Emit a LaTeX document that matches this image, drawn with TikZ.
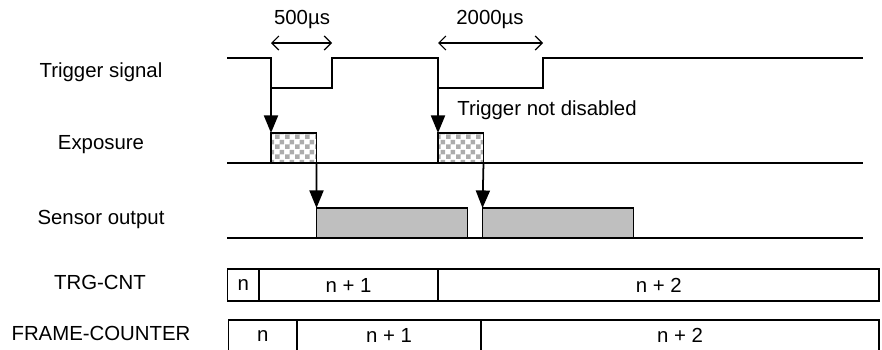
\documentclass[tikz,border=0pt]{standalone}
\usepackage{fontspec}
\setmainfont{Liberation Sans}
\usetikzlibrary{arrows.meta,positioning,patterns}

\pgfdeclarepatternformonly{checks}{\pgfpointorigin}{\pgfqpoint{5.4pt}{5.4pt}}{\pgfqpoint{5.4pt}{5.4pt}}{%
  \pgfpathrectangle{\pgfpointorigin}{\pgfqpoint{2.7pt}{2.7pt}}%
  \pgfpathrectangle{\pgfqpoint{2.7pt}{2.7pt}}{\pgfqpoint{2.7pt}{2.7pt}}%
  \pgfusepath{fill}}

\tikzset{
  every node/.style={font=\fontsize{11.6}{14}\selectfont},
  wave/.style={line width=1pt},
  trig/.style={line width=1pt, -{Triangle[length=10pt,width=8pt]}},
  span/.style={line width=0.7pt, {Straight Barb[length=4pt,width=8pt]}-{Straight Barb[length=4pt,width=8pt]}},
  expbox/.style={draw, line width=1pt, fill=white, pattern=checks, pattern color=gray!65,
    minimum width=0.91cm, minimum height=0.6cm, inner sep=0pt, outer sep=0pt, anchor=north west},
  sensbox/.style={draw, line width=1pt, fill=gray!50,
    minimum width=3.02cm, minimum height=0.6cm, inner sep=0pt, outer sep=0pt, anchor=north west},
  cell/.style={draw, line width=1pt, minimum height=0.63cm, inner sep=0pt, outer sep=0pt}
}

\begin{document}
\begin{tikzpicture}[x=0.02cm, y=-0.02cm]
    \useasboundingbox (0,0) rectangle (882,349);

    \node (lbltrig) at (101,72) {Trigger signal};
    \node (lblexp) at (101,145) {Exposure};
    \node (lblsens) at (101,219) {Sensor output};
    \node (lbltrg) at (100,282) {TRG-CNT};
    \node (lblframe) at (101,333) {FRAME-COUNTER};

    \draw[wave] (227,58) -- (271,58) -- (271,88) -- (332,88) -- (332,58) -- (438,58)
        -- (438,88) -- (543,88) -- (543,58) -- (863,58);
    \coordinate (fall1) at (271,88);
    \coordinate (fall2) at (438,88);

    \coordinate (w1a) at (271,43);
    \coordinate (w1b) at (332,43);
    \coordinate (w2a) at (438,43);
    \coordinate (w2b) at (543,43);
    \draw[span] (w1a) -- (w1b);
    \draw[span] (w2a) -- (w2b);
    \node (d500) at (302,19) {500µs};
    \node (d2000) at (490,19) {2000µs};

    \draw[wave] (227,163) -- (863,163);
    \draw[wave] (227,238) -- (863,238);

    \node[expbox] (exp1) at (271,133) {};
    \node[expbox] (exp2) at (438,133) {};
    \node[sensbox] (sens1) at (316.5,208) {};
    \node[sensbox] (sens2) at (482.5,208) {};

    \draw[trig] (fall1) -- (exp1.north west);
    \draw[trig] (fall2) -- (exp2.north west);
    \draw[trig] (exp1.south east) -- (sens1.north west);
    \draw[trig] (exp2.south east) -- (sens2.north west);
    \node (nodis) at (547,110) {Trigger not disabled};

    \node[cell, minimum width=0.63cm, anchor=north west] (trg0) at (227.5,269.3) {n};
    \node[cell, minimum width=3.586cm, right=0pt of trg0] (trg1) {n + 1};
    \node[cell, minimum width=8.82cm, right=0pt of trg1] (trg2) {n + 2};

    \node[cell, minimum width=1.376cm, anchor=north west] (frm0) at (228.5,320) {n};
    \node[cell, minimum width=3.674cm, right=0pt of frm0] (frm1) {n + 1};
    \node[cell, minimum width=7.966cm, right=0pt of frm1] (frm2) {n + 2};
\end{tikzpicture}
\end{document}
